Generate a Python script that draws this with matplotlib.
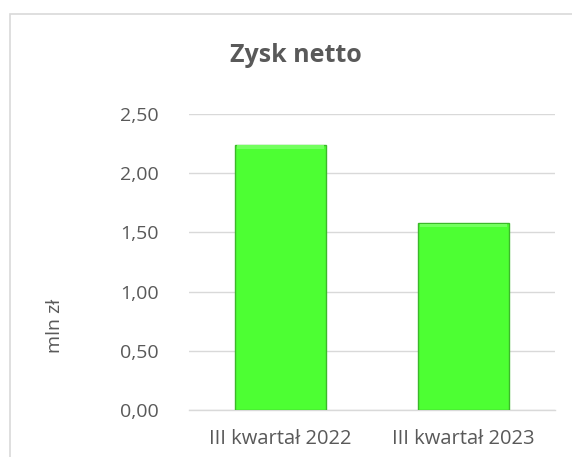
import matplotlib
matplotlib.use('Agg')
from matplotlib import pyplot as plt
from matplotlib.patches import Rectangle

categories = ['III kwartał 2022', 'III kwartał 2023']
values = [2.24, 1.58]
yticks = [0.0, 0.5, 1.0, 1.5, 2.0, 2.5]
title = 'Zysk netto'
ylabel = 'mln zł'

TEXT = '#595959'
GRID = '#d9d9d9'

plt.rcParams['font.family'] = ['Open Sans', 'DejaVu Sans']

fig = plt.figure(figsize=(5.72, 4.57), dpi=100)
ax = fig.add_axes([189 / 572, 1 - 410 / 457, 366 / 572, 296 / 457])

# chart frame (cut off at right and bottom like the screenshot)
fig.patches.append(Rectangle((10 / 572, -0.05), 1.0, 1 - 14 / 457 + 0.05,
                             transform=fig.transFigure, fill=False,
                             edgecolor=GRID, linewidth=1.2))

xs = range(len(categories))
ax.bar(xs, values, width=0.5, color='#4dff33', edgecolor='#3cb82a',
       linewidth=1.0, zorder=3)
# soft bevel highlight along top of bars
ax.bar(xs, [0.03 for v in values], bottom=[v - 0.035 for v in values],
       width=0.48, color='#72ff5e', linewidth=0, zorder=4)

ax.set_xlim(-0.5, len(categories) - 0.5)
ax.set_ylim(0, 2.5)
ax.set_yticks(yticks)
ax.set_yticklabels([f'{t:.2f}'.replace('.', ',') for t in yticks])
ax.set_xticks(list(xs))
ax.set_xticklabels(categories)

ax.grid(axis='y', color=GRID, linewidth=1.0, zorder=0)
for s in ['top', 'right', 'left']:
    ax.spines[s].set_visible(False)
ax.spines['bottom'].set_color(GRID)
ax.spines['bottom'].set_linewidth(1.0)
ax.tick_params(axis='both', length=0, colors=TEXT)
ax.tick_params(axis='y', pad=22, labelsize=14)
ax.tick_params(axis='x', pad=14, labelsize=14.5)

fig.text(296 / 572, 1 - 56 / 457, title, ha='center', va='center',
         fontsize=18, fontweight='bold', color=TEXT)
fig.text(55 / 572, 1 - 326 / 457, ylabel, ha='center', va='center',
         rotation=90, fontsize=14, color=TEXT)

fig.savefig('out.png', dpi=100)
